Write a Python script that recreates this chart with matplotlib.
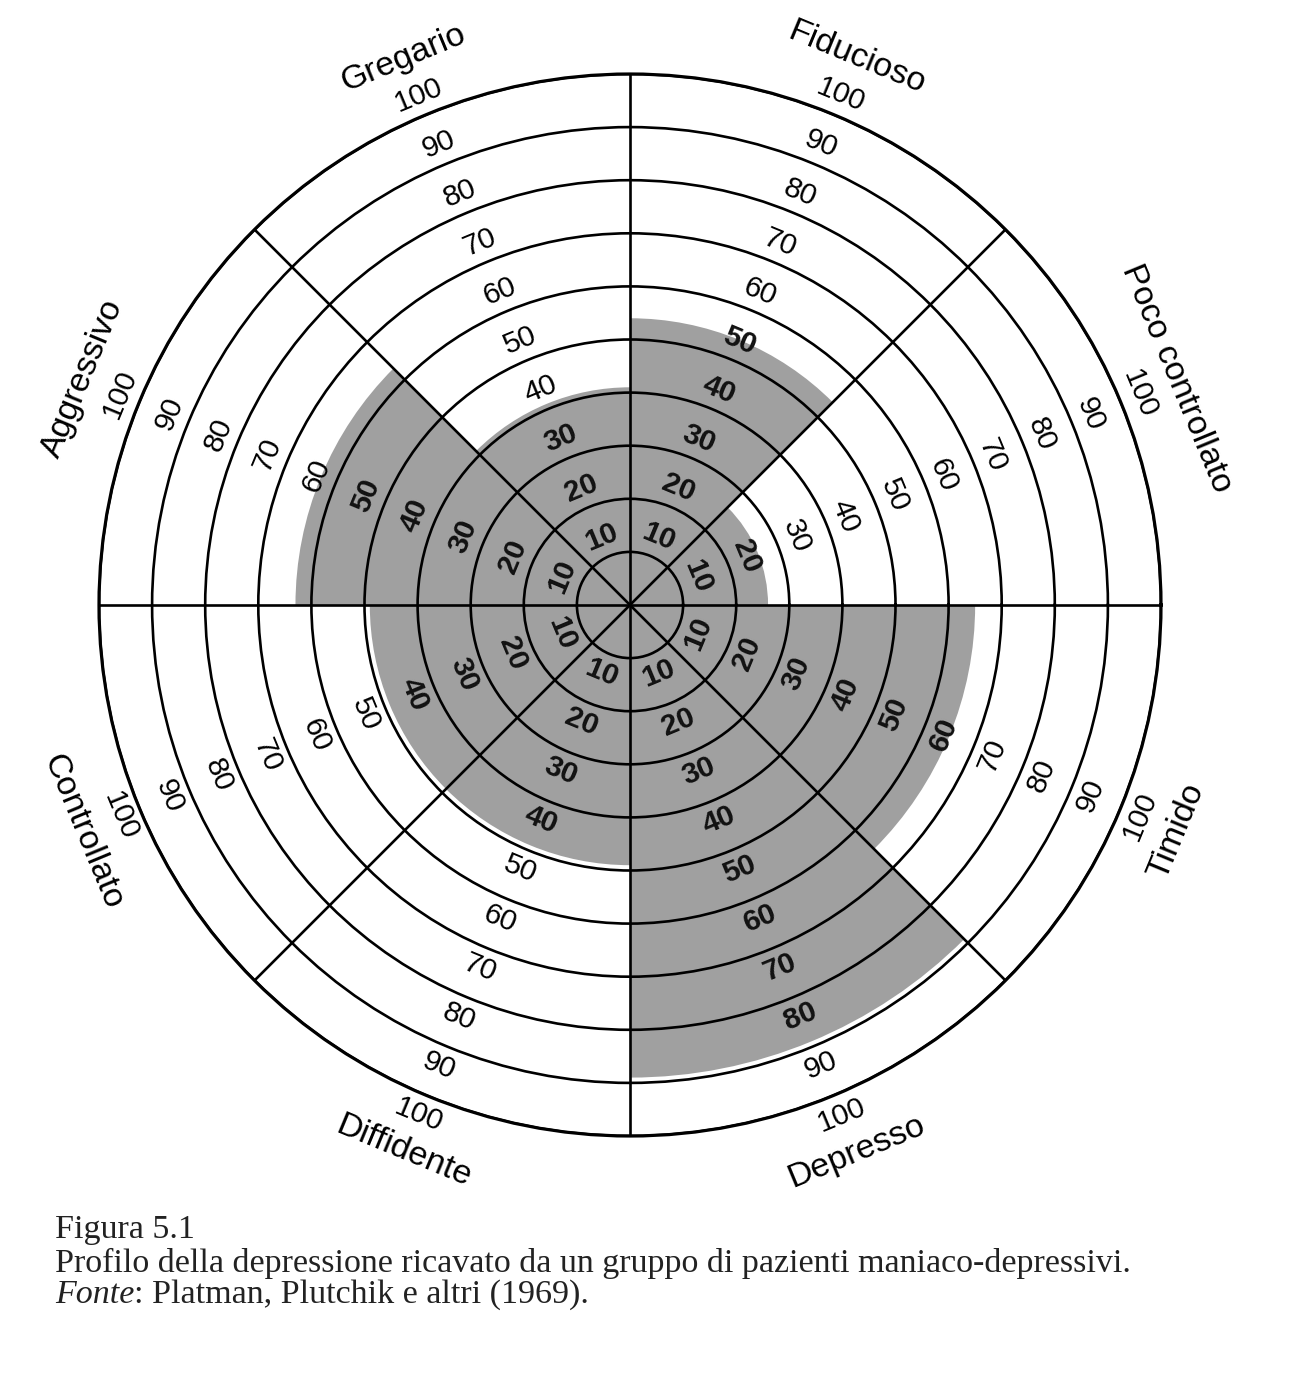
import numpy as np
import matplotlib
matplotlib.use('Agg')
import matplotlib.pyplot as plt

# ---- data ----
categories = ['Poco controllato', 'Fiducioso', 'Gregario', 'Aggressivo',
              'Controllato', 'Diffidente', 'Depresso', 'Timido']
scores = [26, 54, 41, 63, 49, 49, 89, 65]
ring_values = [10, 20, 30, 40, 50, 60, 70, 80, 90, 100]
caption_title = 'Figura 5.1'
caption_text = 'Profilo della depressione ricavato da un gruppo di pazienti maniaco-depressivi.'
source_label = 'Fonte'
source_text = ': Platman, Plutchik e altri (1969).'

W, H = 1313, 1380
fig = plt.figure(figsize=(W / 100, H / 100), dpi=100)
fig.patch.set_facecolor('white')

cx, cy, R = 630, 605, 531
ax = fig.add_axes([(cx - R) / W, 1 - (cy + R) / H, 2 * R / W, 2 * R / H],
                  projection='polar')
ax.set_facecolor('white')
n = len(categories)
width = 2 * np.pi / n
thetas = np.array([(i + 0.5) * width for i in range(n)])

ax.bar(thetas, scores, width=width, bottom=0, align='center',
       color='#a0a0a0', edgecolor='none', zorder=1)

ax.set_ylim(0, 100)
ax.set_yticks(ring_values)
ax.set_yticklabels([])
ax.set_xticks(np.arange(n) * width)
ax.set_xticklabels([])
ax.grid(True, color='black', linewidth=1.9)
ax.spines['polar'].set_linewidth(2.3)
ax.spines['polar'].set_color('black')

sans = ['Liberation Sans', 'DejaVu Sans']
for th, cat, sc in zip(thetas, categories, scores):
    deg = np.degrees(th)
    rot = deg - 90 if deg < 180 else deg - 270
    for v in ring_values:
        inside = v + 3.8 < sc
        ax.text(th, v + 3.9, str(v), rotation=rot, rotation_mode='anchor',
                ha='center', va='center', fontsize=21.5, family=sans,
                fontweight='bold' if inside else 'normal',
                color='#111111' if inside else 'black', zorder=5)
    ax.text(th, 111.5, cat, rotation=rot, rotation_mode='anchor',
            ha='center', va='center', fontsize=24.5, family=sans, zorder=5)

serif = ['Liberation Serif', 'DejaVu Serif']
fs = 24.5
fig.text(55 / W, 1 - 1238 / H, caption_title, fontsize=fs, family=serif,
         va='baseline', ha='left', color='#222222')
fig.text(55 / W, 1 - 1272 / H, caption_text, fontsize=fs, family=serif,
         va='baseline', ha='left', color='#222222')
t = fig.text(55 / W, 1 - 1303 / H, source_label, fontsize=fs, family=serif,
             style='italic', va='baseline', ha='left', color='#222222')
renderer = fig.canvas.get_renderer()
bb = t.get_window_extent(renderer)
fig.text(bb.x1 / W, 1 - 1303 / H, source_text, fontsize=fs, family=serif,
         va='baseline', ha='left', color='#222222')

fig.savefig('out.png', dpi=100, facecolor='white')
